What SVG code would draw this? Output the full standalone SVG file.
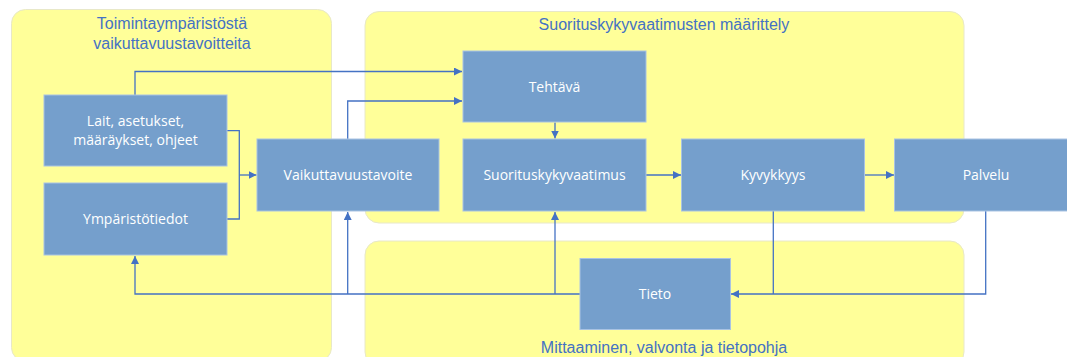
<svg xmlns="http://www.w3.org/2000/svg" width="1067" height="357" viewBox="0 0 1067 357">
<defs>
<style>
.panel{fill:#FFFF99;stroke:#E8E8C8;stroke-width:1}
.node rect{fill:#759FCC;stroke:#A9C3E3;stroke-width:1}
.node text{fill:#FFFFFF;font-family:"Open Sans","Noto Sans",sans-serif;font-size:14px;text-anchor:middle}
.title{fill:#4472C4;font-family:"Liberation Sans",Arial,sans-serif;font-size:16px;text-anchor:middle}
.conn path{fill:none;stroke:#4472C4;stroke-width:1.3}
</style>
<marker id="arr" viewBox="0 0 10 10" refX="10" refY="5" markerWidth="8" markerHeight="8" markerUnits="userSpaceOnUse" orient="auto">
<path d="M0,0 L10,5 L0,10 Z" fill="#4472C4"/>
</marker>
</defs>
<rect width="1067" height="357" fill="#FFFFFF"/>
<g id="panel-left">
<rect class="panel" x="11.5" y="9.5" width="320" height="352" rx="14" ry="14"/>
<text class="title" x="172" y="29">Toimintaympäristöstä</text>
<text class="title" x="172" y="49">vaikuttavuustavoitteita</text>
</g>
<g id="panel-top">
<rect class="panel" x="365" y="11.5" width="599" height="211.5" rx="14" ry="14"/>
<text class="title" x="664" y="30">Suorituskykyvaatimusten määrittely</text>
</g>
<g id="panel-bottom">
<rect class="panel" x="365" y="241" width="599" height="125" rx="14" ry="14"/>
<text class="title" x="664" y="353">Mittaaminen, valvonta ja tietopohja</text>
</g>
<g class="conn" id="connectors">
<path d="M135,95 V71.5 H462" marker-end="url(#arr)"/>
<path d="M347.7,139 V101 H462" marker-end="url(#arr)"/>
<path d="M227,130.7 H239.3 V219 H227"/>
<path d="M239.3,175 H256.5" marker-end="url(#arr)"/>
<path d="M580,294 H135 V256" marker-end="url(#arr)"/>
<path d="M347.7,294 V212" marker-end="url(#arr)"/>
<path d="M555,294 V212" marker-end="url(#arr)"/>
<path d="M555,122.5 V138.5" marker-end="url(#arr)"/>
<path d="M646,175 H681" marker-end="url(#arr)"/>
<path d="M864,175 H894" marker-end="url(#arr)"/>
<path d="M773.3,211 V294"/>
<path d="M985.7,211 V294 H731" marker-end="url(#arr)"/>
</g>
<g class="node" id="node-lait">
<rect x="44" y="95" width="183" height="71"/>
<text x="135.5" y="126">Lait, asetukset,</text>
<text x="135.5" y="145">määräykset, ohjeet</text>
</g>
<g class="node" id="node-ymparisto">
<rect x="44" y="183" width="183" height="72"/>
<text x="135.5" y="224">Ympäristötiedot</text>
</g>
<g class="node" id="node-vaikuttavuustavoite">
<rect x="257" y="139" width="182" height="72"/>
<text x="348" y="180">Vaikuttavuustavoite</text>
</g>
<g class="node" id="node-tehtava">
<rect x="463" y="51" width="183" height="71"/>
<text x="554.5" y="92">Tehtävä</text>
</g>
<g class="node" id="node-suorituskykyvaatimus">
<rect x="463" y="139" width="183" height="72"/>
<text x="554.5" y="180">Suorituskykyvaatimus</text>
</g>
<g class="node" id="node-kyvykkyys">
<rect x="681.5" y="139" width="183" height="72"/>
<text x="773" y="180">Kyvykkyys</text>
</g>
<g class="node" id="node-palvelu">
<rect x="894.5" y="139" width="183" height="72"/>
<text x="986" y="180">Palvelu</text>
</g>
<g class="node" id="node-tieto">
<rect x="580" y="258.5" width="150.5" height="71"/>
<text x="655" y="299">Tieto</text>
</g>
</svg>
